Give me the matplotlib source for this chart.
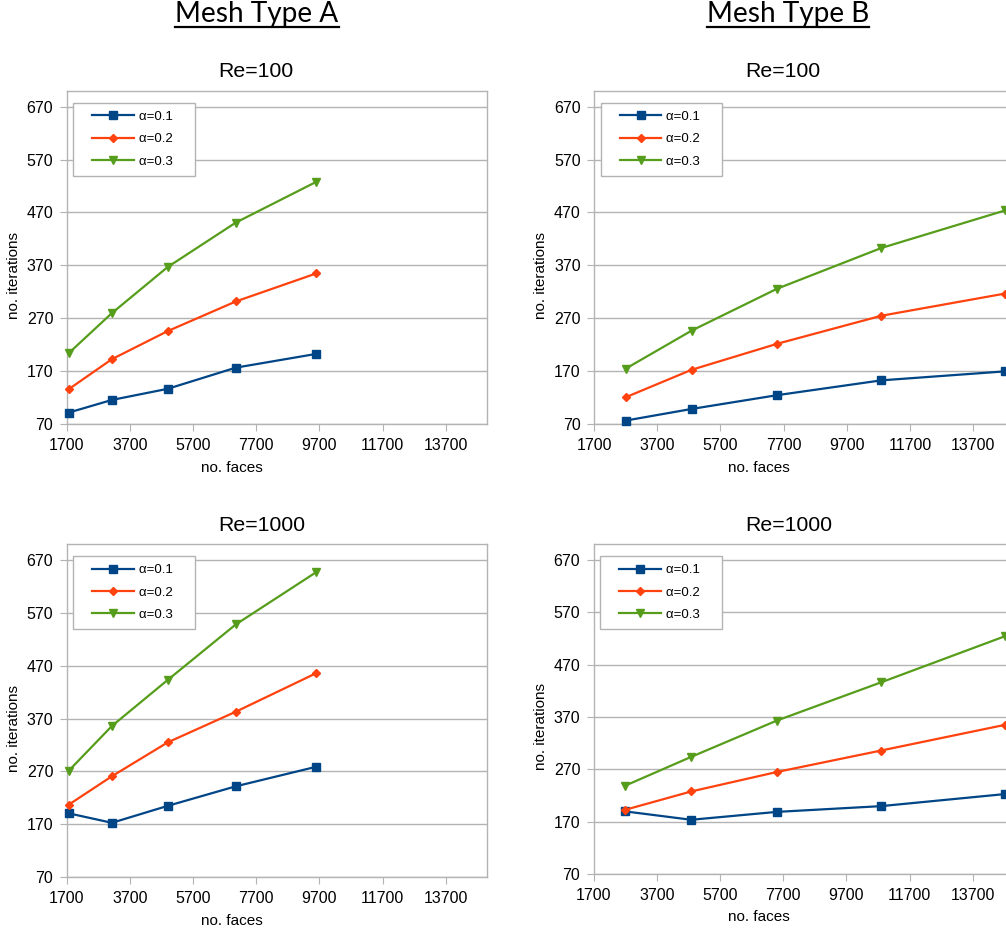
import matplotlib
matplotlib.use("Agg")
import matplotlib.pyplot as plt
from matplotlib.legend_handler import HandlerLine2D
from matplotlib.lines import Line2D

# ---------------- data ----------------
faces_A = [1764, 3136, 4900, 7056, 9604]
faces_B = [2700, 4790, 7490, 10790, 14710]

series_labels = ["α=0.1", "α=0.2", "α=0.3"]

A_re100_a1 = [92, 116, 137, 177, 203]
A_re100_a2 = [136, 193, 246, 302, 355]
A_re100_a3 = [204, 280, 367, 451, 528]

B_re100_a1 = [77, 99, 125, 153, 170]
B_re100_a2 = [121, 173, 222, 275, 317]
B_re100_a3 = [175, 247, 326, 403, 474]

A_re1000_a1 = [191, 173, 205, 242, 279]
A_re1000_a2 = [207, 261, 325, 383, 456]
A_re1000_a3 = [271, 356, 443, 548, 647]

B_re1000_a1 = [190, 174, 189, 200, 223]
B_re1000_a2 = [193, 228, 265, 306, 355]
B_re1000_a3 = [239, 294, 363, 436, 524]

x_ticks = [1700, 3700, 5700, 7700, 9700, 11700, 13700]
y_ticks = [70, 170, 270, 370, 470, 570, 670]

# ---------------- style ----------------
W, H = 1006, 930
colors = ["#004586", "#ff420e", "#579d1c"]
markers = ["s", "D", "v"]
msizes = [6.0, 4.0, 5.5]
gray = "#b3b3b3"
plt.rcParams["font.family"] = ["Liberation Sans", "DejaVu Sans"]

fig = plt.figure(figsize=(W / 100, H / 100), dpi=100)


def px_axes(left, right, top, bottom):
    return fig.add_axes([left / W, 1 - bottom / H, (right - left) / W, (bottom - top) / H])


panels = [
    # (axes px box, faces, series, title, title center x, title baseline y, xlabel (x,y), ylabel (x,y))
    ((66.5, 487.0, 90.7, 424.3), faces_A, [A_re100_a1, A_re100_a2, A_re100_a3], "Re=100", 255.5, 77.3, (232, 467.5), (13.5, 275)),
    ((594.0, 1014.5, 90.7, 424.3), faces_B, [B_re100_a1, B_re100_a2, B_re100_a3], "Re=100", 783.3, 77.3, (759, 467.5), (541, 275)),
    ((66.5, 487.0, 544.0, 877.3), faces_A, [A_re1000_a1, A_re1000_a2, A_re1000_a3], "Re=1000", 261.5, 531.0, (232, 920.8), (13.5, 728)),
    ((593.5, 1014.0, 544.0, 874.3), faces_B, [B_re1000_a1, B_re1000_a2, B_re1000_a3], "Re=1000", 789.0, 531.0, (759, 917.3), (541, 726)),
]

for box, xs, series, title, tcx, tby, xl, yl in panels:
    l, r, t, b = box
    ax = px_axes(l, r, t, b)
    aw, ah = r - l, b - t
    for ys, c, m, ms, lab in zip(series, colors, markers, msizes, series_labels):
        ax.plot(xs, ys, color=c, marker=m, markersize=ms, linewidth=1.6,
                markeredgecolor=c, label=lab, clip_on=False, zorder=3)
    ax.set_xlim(1700, 15000)
    ax.set_ylim(70, 700)
    ax.set_xticks(x_ticks)
    ax.set_yticks(y_ticks)
    ax.tick_params(axis="both", direction="out", length=5, width=0.8, color=gray,
                   labelsize=11.5, labelcolor="black", pad=4.5)
    ax.tick_params(axis="x", pad=5)
    ax.grid(axis="y", color=gray, linewidth=1.0)
    ax.set_axisbelow(True)
    for s in ax.spines.values():
        s.set_color(gray)
        s.set_linewidth(1.0)
    # axis labels
    ax.set_xlabel("no. faces", fontsize=11)
    ax.xaxis.label.set_va("center")
    ax.xaxis.set_label_coords((xl[0] - l) / aw, (b - xl[1]) / ah)
    ax.set_ylabel("no. iterations", fontsize=11)
    ax.yaxis.label.set_va("center")
    ax.yaxis.set_label_coords((yl[0] - l) / aw, (b - yl[1]) / ah)
    # title
    fig.text(tcx / W, 1 - tby / H, title, ha="center", va="baseline", fontsize=15.3)
    # legend
    leg = ax.legend(loc="upper left", bbox_to_anchor=(6.8 / aw, 1 - 12 / ah),
                    borderaxespad=0, fontsize=9.5, frameon=True, fancybox=False,
                    framealpha=1, edgecolor=gray, borderpad=0.6, labelspacing=0.77,
                    handlelength=3.97, handletextpad=0.38,
                    handler_map={Line2D: HandlerLine2D(xpad=0.85)})
    leg.get_frame().set_linewidth(1.0)
    for txt in leg.get_texts():
        txt.set_text(txt.get_text() + "    ")

# headers with underline
renderer = fig.canvas.get_renderer()
for label, cx in [("Mesh Type A", 257), ("Mesh Type B", 788)]:
    t = fig.text(cx / W, 1 - 21.7 / H, label, ha="center", va="baseline",
                 fontsize=20.2, family=["Lato", "DejaVu Sans"])
    bb = t.get_window_extent(renderer)
    y_line = 1 - 26.7 / H
    fig.add_artist(Line2D([bb.x0 / W, bb.x1 / W], [y_line, y_line],
                          transform=fig.transFigure, color="black", linewidth=1.6))

fig.savefig("out.png", dpi=100)
